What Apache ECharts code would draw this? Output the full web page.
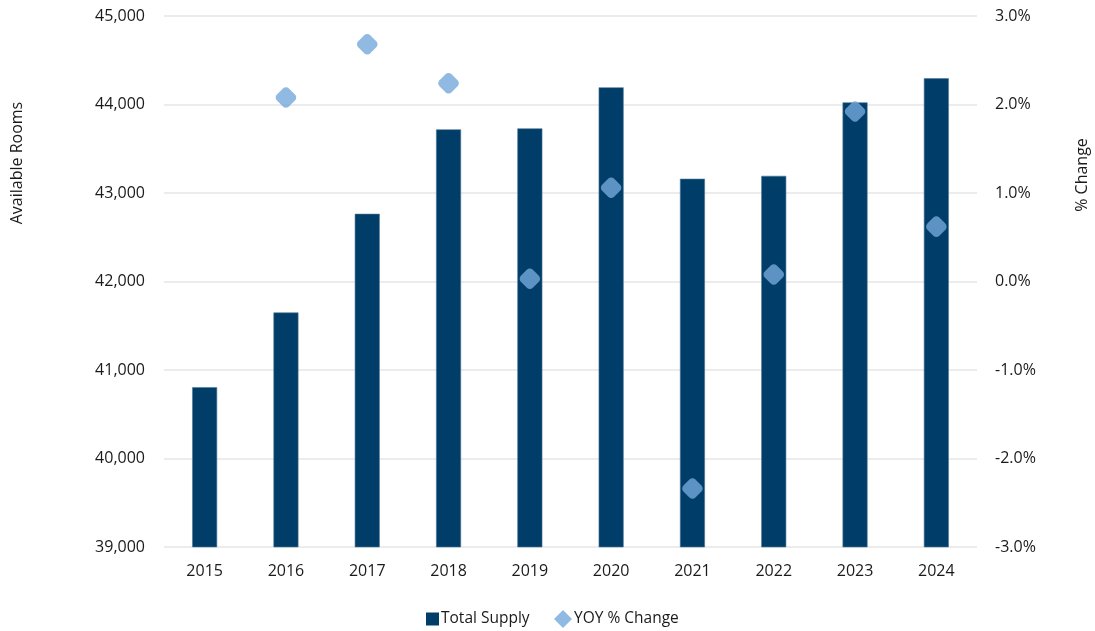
<!DOCTYPE html>
<html><head><meta charset="utf-8">
<script src="https://cdn.jsdelivr.net/npm/echarts@6/dist/echarts.min.js"></script>
<style>html,body{margin:0;padding:0;background:#fff}#c{width:1095px;height:631px}</style>
</head><body><div id="c"></div>
<script>
const categories = ['2015','2016','2017','2018','2019','2020','2021','2022','2023','2024'];
const totalSupply = [40806, 41650, 42765, 43719, 43730, 44194, 43161, 43194, 44024, 44296];
const yoyChange = [null, 2.08, 2.68, 2.24, 0.03, 1.06, -2.34, 0.08, 1.92, 0.62];
const leftTicks = {min: 39000, max: 45000, interval: 1000};
const rightTicks = {min: -3, max: 3, interval: 1};

const FONT = 'Open Sans';
const TXT = '#1a1a1a';
const legendText = {fontFamily: FONT, fontSize: 15.5, color: TXT, padding: [0, 0, 0, -3]};
const chart = echarts.init(document.getElementById('c'));
chart.setOption({
  animation: false,
  textStyle: {fontFamily: FONT},
  grid: {left: 164, right: 118, top: 16, bottom: 84},
  legend: [
    {left: 426, top: 609, itemWidth: 13, itemHeight: 13, padding: [2, 0, 2, 0], textStyle: legendText,
     data: [{name: 'Total Supply', icon: 'rect', itemStyle: {color: '#003D68', borderWidth: 0}}]},
    {left: 554, top: 610, itemWidth: 18, itemHeight: 18, padding: [0, 0, 0, 0], textStyle: legendText,
     data: [{name: 'YOY % Change', icon: 'diamond', itemStyle: {color: '#74A9DB', borderWidth: 0}}]}
  ],
  xAxis: {
    type: 'category', data: categories,
    axisLine: {show: false}, axisTick: {show: false},
    axisLabel: {fontFamily: FONT, fontSize: 16, color: TXT, margin: 16}
  },
  yAxis: [
    {type: 'value', min: leftTicks.min, max: leftTicks.max, interval: leftTicks.interval,
     axisLine: {show: false}, axisTick: {show: false},
     splitLine: {lineStyle: {color: '#E6E6E6', width: 1.5}},
     axisLabel: {fontFamily: FONT, fontSize: 16, color: TXT, margin: 19,
       formatter: v => v.toLocaleString('en-US')}},
    {type: 'value', min: rightTicks.min, max: rightTicks.max, interval: rightTicks.interval,
     axisLine: {show: false}, axisTick: {show: false}, splitLine: {show: false},
     axisLabel: {fontFamily: FONT, fontSize: 16, color: TXT, margin: 18,
       formatter: v => v.toFixed(1) + '%'}}
  ],
  graphic: [
    {type: 'text', rotation: Math.PI/2, x: 17, y: 163,
     style: {text: 'Available Rooms', font: '16px "Open Sans"', fill: TXT, align: 'center', verticalAlign: 'middle'}},
    {type: 'text', rotation: Math.PI/2, x: 1082, y: 175,
     style: {text: '% Change', font: '16px "Open Sans"', fill: TXT, align: 'center', verticalAlign: 'middle'}}
  ],
  series: [
    {name: 'Total Supply', type: 'bar', data: totalSupply, barWidth: 25,
     itemStyle: {color: '#003D68', borderColor: '#4F7899', borderWidth: 0.6}},
    {name: 'YOY % Change', type: 'scatter', yAxisIndex: 1, data: yoyChange,
     symbol: 'roundRect', symbolRotate: 45, symbolSize: 17,
     itemStyle: {color: '#74A9DB', borderRadius: 3}, z: 5}
  ]
});
</script></body></html>
